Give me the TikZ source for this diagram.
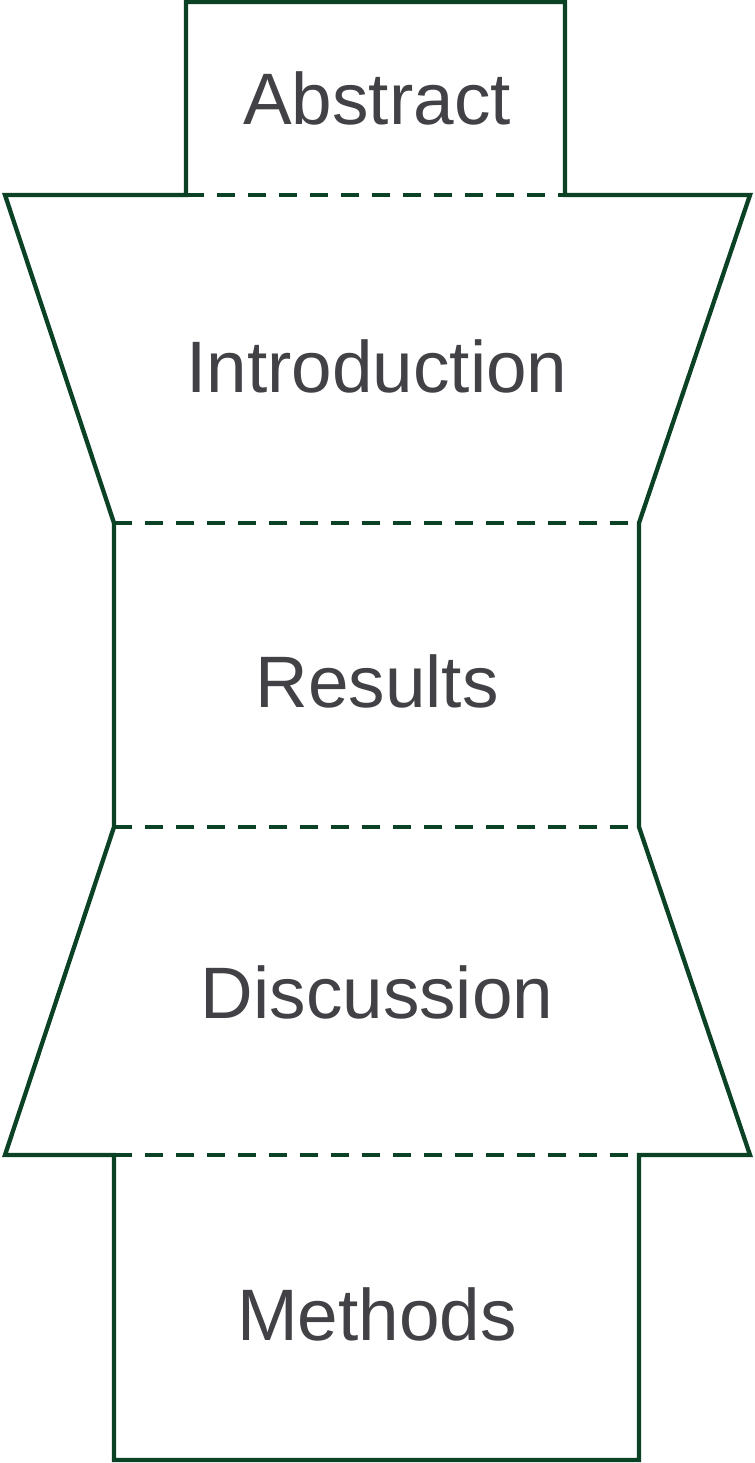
\documentclass[tikz,border=0pt]{standalone}
\usepackage{fontspec}
\setmainfont{Liberation Sans}
\usepackage{tikz}
\usetikzlibrary{positioning}
\definecolor{edgegreen}{HTML}{0B4125}
\definecolor{labelgray}{HTML}{414146}

\begin{document}
\begin{tikzpicture}[x=0.02cm, y=-0.02cm,
    outline/.style={draw=edgegreen, line width=0.086cm, line join=miter},
    seam/.style={draw=edgegreen, line width=0.086cm, dash pattern=on 0.36cm off 0.26cm},
    part/.style={anchor=base, text=labelgray, inner sep=0pt, font=\fontsize{41.5}{48}\selectfont}]
    \useasboundingbox (0,0) rectangle (754,1463);

    % Eckpunkte der Abschnitte
    \coordinate (absL) at (186,195);
    \coordinate (absR) at (565,195);
    \coordinate (intL) at (5,195);
    \coordinate (intR) at (750,195);
    \coordinate (resTL) at (114,523);
    \coordinate (resTR) at (639,523);
    \coordinate (resBL) at (114,827);
    \coordinate (resBR) at (639,827);
    \coordinate (disL) at (5,1155);
    \coordinate (disR) at (750,1155);
    \coordinate (metL) at (114,1155);
    \coordinate (metR) at (639,1155);

    % Umriss
    \draw[outline] (absL) -- (186,2) -- (565,2) -- (absR) -- (intR) -- (resTR)
        -- (resBR) -- (disR) -- (metR) -- (639,1460) -- (114,1460) -- (metL)
        -- (disL) -- (resBL) -- (resTL) -- (intL) -- cycle;

    % Trennlinien
    \draw[seam] (absL) -- (absR);
    \draw[seam] (resTL) -- (resTR);
    \draw[seam] (resBL) -- (resBR);
    \draw[seam] (metL) -- (metR);

    % Beschriftungen
    \node[part] (abstract) at (377,125) {Abstract};
    \node[part] (intro) at (377,392) {Introduction};
    \node[part] (results) at (377,707) {Results};
    \node[part] (discussion) at (377,1018) {Discussion};
    \node[part] (methods) at (377,1340) {Methods};
\end{tikzpicture}
\end{document}
